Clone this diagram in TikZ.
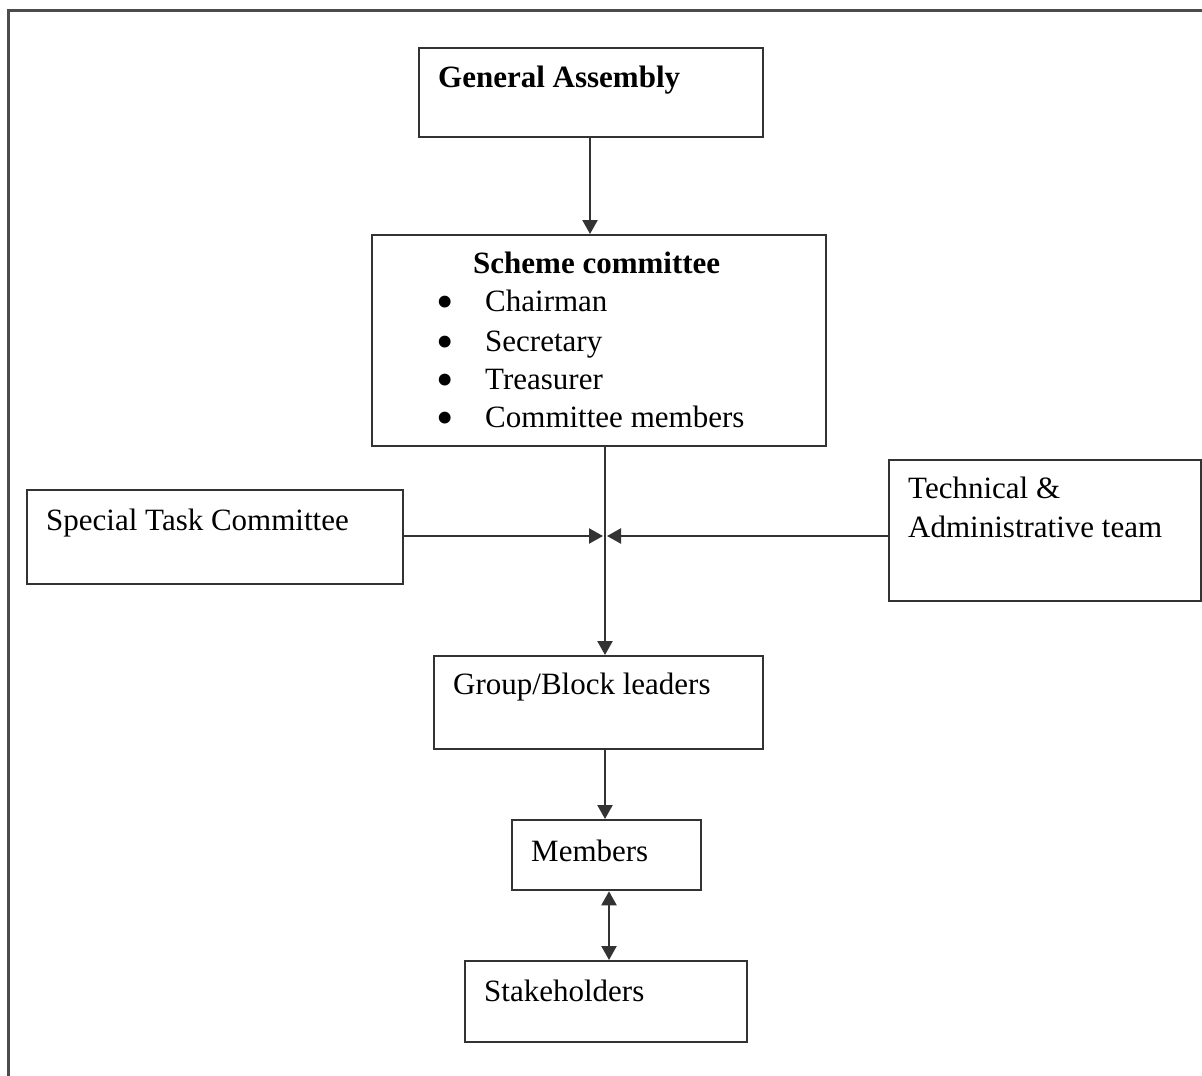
\documentclass[tikz,border=0pt]{standalone}
\usepackage{fontspec}
\setmainfont{Liberation Serif}
\usetikzlibrary{arrows.meta}
\definecolor{linegray}{HTML}{333333}
\begin{document}
\begin{tikzpicture}[x=1pt,y=-1pt,
  box/.style={draw=linegray,line width=2.3pt,rectangle,inner sep=0pt,anchor=north west},
  txt/.style={anchor=base west,inner sep=0pt,font=\fontsize{31}{36}\selectfont},
  bul/.style={anchor=base,inner sep=0pt,font=\fontsize{31}{36}\selectfont},
  tip/.tip={Triangle[length=14pt,width=15pt]},
  conn/.style={draw=linegray,line width=2.3pt,-tip},
  frameline/.style={draw=black!70,line width=3pt}]
\useasboundingbox (0,0) rectangle (1202,1076);
% outer frame (top and left edges visible)
\coordinate (ftl) at (8,10);
\coordinate (ftr) at (1202,10);
\coordinate (fbl) at (8,1076);
\draw[frameline] (fbl) -- (ftl) -- (ftr);
% boxes
\node[box,minimum width=344pt,minimum height=89pt] (ga) at (418,47) {};
\node[box,minimum width=454pt,minimum height=211pt] (sc) at (371,234) {};
\node[box,minimum width=376pt,minimum height=94pt] (st) at (26,489) {};
\node[box,minimum width=312pt,minimum height=141pt] (ta) at (888,459) {};
\node[box,minimum width=329pt,minimum height=93pt] (gb) at (433,655) {};
\node[box,minimum width=189pt,minimum height=70pt] (mem) at (511,819) {};
\node[box,minimum width=282pt,minimum height=81pt] (sh) at (464,960) {};
% texts
\node[txt,font=\fontsize{31}{36}\selectfont\bfseries] (tga) at (438,87) {General Assembly};
\node[txt,font=\fontsize{31}{36}\selectfont\bfseries] (tsc) at (473,273) {Scheme committee};
\node[bul] (b1) at (445,318) {\smash{\scalebox{1.6}{\textbullet}}};
\node[bul] (b2) at (445,358) {\smash{\scalebox{1.6}{\textbullet}}};
\node[bul] (b3) at (445,396) {\smash{\scalebox{1.6}{\textbullet}}};
\node[bul] (b4) at (445,434) {\smash{\scalebox{1.6}{\textbullet}}};
\node[txt] (i1) at (485,311) {Chairman};
\node[txt] (i2) at (485,351) {Secretary};
\node[txt] (i3) at (485,389) {Treasurer};
\node[txt] (i4) at (485,427) {Committee members};
\node[txt] (tst) at (46,530) {Special Task Committee};
\node[txt] (tta1) at (908,498) {Technical \&};
\node[txt] (tta2) at (908,537) {Administrative team};
\node[txt] (tgb) at (453,694) {Group/Block leaders};
\node[txt] (tmem) at (531,861) {Members};
\node[txt] (tsh) at (484,1001) {Stakeholders};
% connectors
\coordinate (jL) at (603,536);
\coordinate (jR) at (607,536);
\draw[conn] (ga.south -| 590,0) -- (sc.north -| 590,0);
\draw[conn] (sc.south -| 605,0) -- (gb.north -| 605,0);
\draw[conn] (st.east |- jL) -- (jL);
\draw[conn] (ta.west |- jR) -- (jR);
\draw[conn] (gb.south -| 605,0) -- (mem.north -| 605,0);
\draw[conn,tip-tip] (mem.south -| 609,0) -- (sh.north -| 609,0);
\end{tikzpicture}
\end{document}
